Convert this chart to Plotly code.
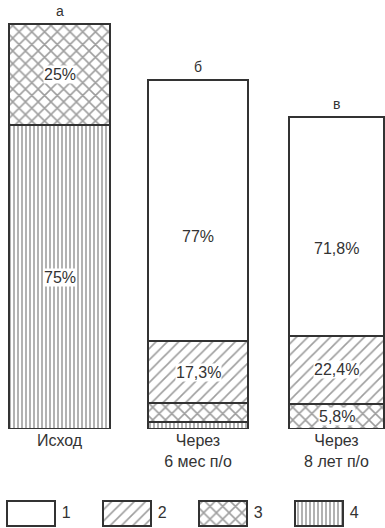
import plotly.graph_objects as go

# columns (first column height = 100 units)
categories = ["Исход", "Через<br>6 мес п/о", "Через<br>8 лет п/о"]
letters = ["а", "б", "в"]

# segment heights as drawn, in units of the first column
seg_1 = [0, 64.4, 54.1]
seg_2 = [0, 15.3, 16.8]
seg_3 = [25.0, 4.7, 6.2]
seg_4 = [75.0, 1.7, 0]

# printed percentages
labels_1 = ["", "77%", "71,8%"]
labels_2 = ["", "17,3%", "22,4%"]
labels_3 = ["25%", "", "5,8%"]
labels_4 = ["75%", "", ""]

legend_names = ["1", "2", "3", "4"]

FONT = "Liberation Sans, Arial, sans-serif"
INK = "#333333"
HATCH = "#3d3d3d"

# stacked from the bottom: 4, 3, 2, 1
series = [
    (seg_4, labels_4, "|", 4, 0.4),
    (seg_3, labels_3, "x", 9, 0.32),
    (seg_2, labels_2, "/", 8, 0.2),
    (seg_1, labels_1, "", 8, 0.2),
]
widths = [0.736, 0.722, 0.68]

fig = go.Figure()
for vals, _, shape, size, solid in series:
    fig.add_bar(
        x=categories, y=vals, width=widths,
        marker=dict(
            color="white",
            line=dict(color=INK, width=2.5),
            pattern=dict(shape=shape, fgcolor=HATCH, bgcolor="white",
                         size=size, solidity=solid),
        ),
        hoverinfo="skip", showlegend=False,
    )

# percentage labels on segments (white background like the print)
annotations = []
base = [0, 0, 0]
for vals, labs, shape, _, _ in series:
    for i, (v, lab) in enumerate(zip(vals, labs)):
        if lab:
            frac = 0.4 if shape == "" else 0.5
            annotations.append(dict(
                x=categories[i], y=base[i] + v * frac, xref="x", yref="y",
                text=lab, showarrow=False, bgcolor="white", borderpad=0,
                font=dict(family=FONT, size=16, color=INK),
            ))
        base[i] += v

for i, let in enumerate(letters):
    annotations.append(dict(
        x=categories[i], y=base[i], xref="x", yref="y", text=let,
        showarrow=False, yanchor="bottom", yshift=3,
        font=dict(family=FONT, size=14, color=INK),
    ))

# legend drawn as its own row of boxes
fig.add_bar(
    x=[0, 1, 2, 3], y=[1, 1, 1, 1], width=0.5, xaxis="x2", yaxis="y2",
    marker=dict(
        color="white", line=dict(color=INK, width=2),
        pattern=dict(shape=["", "/", "x", "|"], fgcolor=HATCH, bgcolor="white",
                     size=[8, 8, 9, 4], solidity=[0.2, 0.2, 0.32, 0.4]),
    ),
    hoverinfo="skip", showlegend=False,
)
fig.add_trace(go.Scatter(
    x=[i + 0.32 for i in range(4)], y=[0.5] * 4, xaxis="x2", yaxis="y2",
    mode="text", text=legend_names, textposition="middle right",
    textfont=dict(family=FONT, size=16, color=INK),
    hoverinfo="skip", showlegend=False,
))

fig.update_layout(
    width=385, height=528,
    margin=dict(l=0, r=0, t=0, b=0),
    paper_bgcolor="white", plot_bgcolor="white",
    barmode="stack", bargap=0,
    annotations=annotations,
    xaxis=dict(domain=[0, 1], range=[-0.4296, 2.350], anchor="y",
               showgrid=False, zeroline=False, showline=False, ticks="",
               tickfont=dict(family=FONT, size=16, color=INK)),
    yaxis=dict(domain=[99 / 528, 1], range=[0, 105.93], visible=False),
    xaxis2=dict(domain=[0, 1], range=[-0.323, 3.687], anchor="y2", visible=False),
    yaxis2=dict(domain=[0, 28 / 528], range=[-0.08, 1.04], visible=False),
)

# page margin would shift the figure by 8px
fig.write_html("out.html", config={"displayModeBar": False},
               post_script="document.body.style.margin='0';")
